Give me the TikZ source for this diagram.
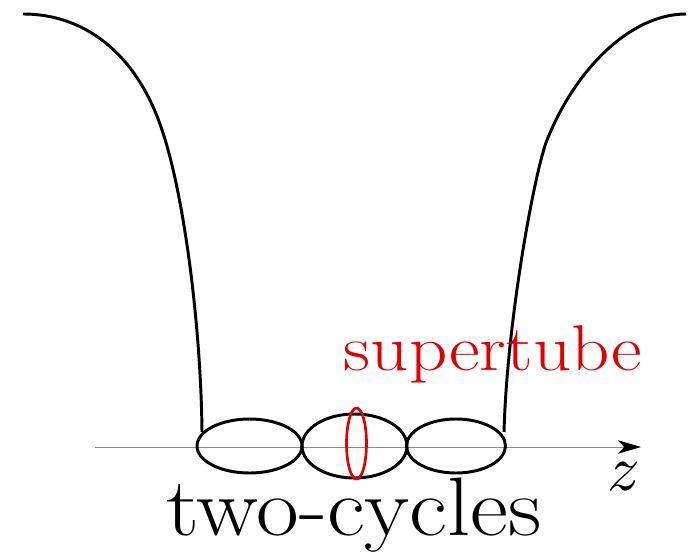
\documentclass[tikz,border=0pt]{standalone}
\usepackage{xcolor}
\usepackage{tikz}
\usetikzlibrary{arrows.meta}
\definecolor{tube}{HTML}{E00000}
\definecolor{axis}{HTML}{8C8C8C}

\begin{document}
\begin{tikzpicture}[x=0.025cm,y=-0.025cm,line join=round]
\useasboundingbox (0,0) rectangle (688,552);
% walls
\draw[line width=2.1pt] (23,14) .. controls (90,14) and (140,60) .. (163,133) .. controls (185,200) and (201,330) .. (202,432);
\draw[line width=2.1pt] (686,14) .. controls (630,14) and (575,70) .. (547,140) .. controls (535,170) and (507,320) .. (504,432);
% axis
\coordinate (zstart) at (95,447);
\coordinate (zend) at (641,447);
\draw[axis,line width=0.7pt,-{Stealth[length=0.58cm,width=0.34cm,inset=0.16cm,black]}] (zstart) -- (zend);
\node[scale=4.6,anchor=base] (zlabel) at (624,490) {$z$};
% two-cycles
\draw[line width=2.1pt] (249.5,446) ellipse [x radius=52.5,y radius=27];
\draw[line width=2.1pt] (354.5,446) ellipse [x radius=52.5,y radius=32];
\draw[line width=2.1pt] (456,446) ellipse [x radius=49.5,y radius=27];
\draw[tube,line width=1.9pt] (356.5,443.5) ellipse [x radius=10,y radius=35.5];
\node[font=\fontsize{59}{64}\selectfont,xscale=1.12,anchor=base] (cycles) at (354,535) {two-cycles};
\node[text=tube,font=\fontsize{46}{50}\selectfont,xscale=1.16,anchor=base] (supertube) at (493,370) {supertube};
\end{tikzpicture}
\end{document}
